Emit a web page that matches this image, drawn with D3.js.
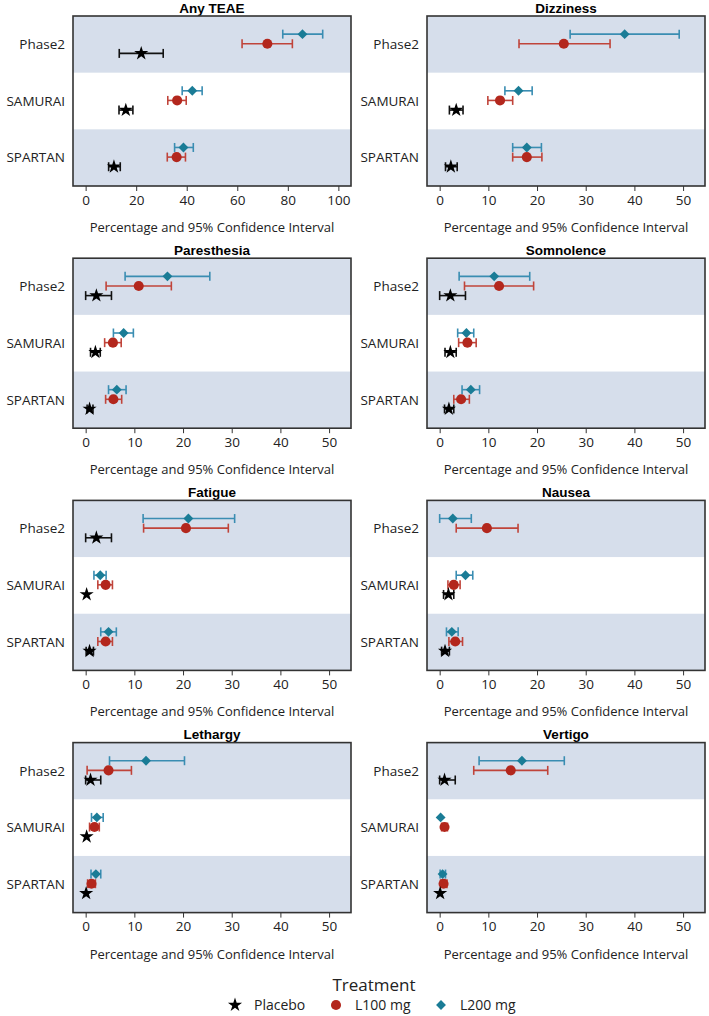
<!DOCTYPE html>
<html>
<head>
<meta charset="utf-8">
<script src="https://cdn.jsdelivr.net/npm/d3@7"></script>
<style>
  html, body { margin: 0; padding: 0; background: #fff; }
  svg { display: block; font-family: "Open Sans", sans-serif; }
</style>
</head>
<body>
<svg id="chart" width="709" height="1016"></svg>
<script>
/* Adverse events by study: percentage and 95% CI, three treatment arms */
var studies = ['Phase2', 'SAMURAI', 'SPARTAN'];
var treatments = ['L200 mg', 'L100 mg', 'Placebo'];   /* top to bottom inside a band */
var legendOrder = ['Placebo', 'L100 mg', 'L200 mg'];
var ticksWide = [0, 20, 40, 60, 80, 100];
var ticksNarrow = [0, 10, 20, 30, 40, 50];

/* rows: [study, treatment, estimate, lower, upper]  (null = not drawn) */
var anyTeae = [
  ['Phase2', 'L200 mg', 85.8, 78.0, 93.8], ['Phase2', 'L100 mg', 71.9, 61.9, 81.8], ['Phase2', 'Placebo', 22.0, 13.3, 30.7],
  ['SAMURAI', 'L200 mg', 42.2, 38.2, 46.1], ['SAMURAI', 'L100 mg', 36.2, 32.5, 39.8], ['SAMURAI', 'Placebo', 15.9, 13.2, 18.7],
  ['SPARTAN', 'L200 mg', 38.7, 35.2, 42.6], ['SPARTAN', 'L100 mg', 36.0, 32.3, 39.5], ['SPARTAN', 'Placebo', 11.2, 9.1, 13.7]
];
var dizziness = [
  ['Phase2', 'L200 mg', 38.0, 26.8, 49.2], ['Phase2', 'L100 mg', 25.5, 16.3, 35.0],
  ['SAMURAI', 'L200 mg', 16.2, 13.4, 19.0], ['SAMURAI', 'L100 mg', 12.4, 9.9, 15.0], ['SAMURAI', 'Placebo', 3.4, 2.0, 4.8],
  ['SPARTAN', 'L200 mg', 17.9, 15.0, 20.9], ['SPARTAN', 'L100 mg', 17.9, 15.0, 21.0], ['SPARTAN', 'Placebo', 2.3, 1.2, 3.6]
];
var paresthesia = [
  ['Phase2', 'L200 mg', 16.8, 8.1, 25.5], ['Phase2', 'L100 mg', 10.9, 4.2, 17.6], ['Phase2', 'Placebo', 2.2, 0, 5.3],
  ['SAMURAI', 'L200 mg', 7.8, 5.7, 9.8], ['SAMURAI', 'L100 mg', 5.6, 3.9, 7.3], ['SAMURAI', 'Placebo', 2.0, 1.0, 3.0],
  ['SPARTAN', 'L200 mg', 6.4, 4.7, 8.3], ['SPARTAN', 'L100 mg', 5.7, 4.1, 7.4], ['SPARTAN', 'Placebo', 0.8, 0.3, 1.5]
];
var somnolence = [
  ['Phase2', 'L200 mg', 11.2, 4.0, 18.5], ['Phase2', 'L100 mg', 12.2, 5.1, 19.3], ['Phase2', 'Placebo', 2.2, 0, 5.3],
  ['SAMURAI', 'L200 mg', 5.5, 3.7, 7.0], ['SAMURAI', 'L100 mg', 5.7, 3.9, 7.5], ['SAMURAI', 'Placebo', 2.2, 1.1, 3.4],
  ['SPARTAN', 'L200 mg', 6.4, 4.6, 8.2], ['SPARTAN', 'L100 mg', 4.4, 2.9, 6.1], ['SPARTAN', 'Placebo', 1.9, 1.0, 2.9]
];
var fatigue = [
  ['Phase2', 'L200 mg', 21.1, 11.8, 30.6], ['Phase2', 'L100 mg', 20.6, 11.9, 29.3], ['Phase2', 'Placebo', 2.2, 0, 5.3],
  ['SAMURAI', 'L200 mg', 3.0, 1.7, 4.2], ['SAMURAI', 'L100 mg', 4.1, 2.5, 5.5], ['SAMURAI', 'Placebo', 0.2, null, null],
  ['SPARTAN', 'L200 mg', 4.7, 3.1, 6.3], ['SPARTAN', 'L100 mg', 4.1, 2.5, 5.5], ['SPARTAN', 'Placebo', 0.8, 0.1, 1.6]
];
var nausea = [
  ['Phase2', 'L200 mg', 2.7, 0, 6.5], ['Phase2', 'L100 mg', 9.7, 3.4, 16.1],
  ['SAMURAI', 'L200 mg', 5.3, 3.4, 6.8], ['SAMURAI', 'L100 mg', 2.9, 1.7, 4.2], ['SAMURAI', 'Placebo', 1.8, 0.8, 2.9],
  ['SPARTAN', 'L200 mg', 2.5, 1.4, 3.8], ['SPARTAN', 'L100 mg', 3.2, 1.9, 4.7], ['SPARTAN', 'Placebo', 1.1, 0.4, 2.0]
];
var lethargy = [
  ['Phase2', 'L200 mg', 12.4, 4.9, 20.3], ['Phase2', 'L100 mg', 4.7, 0.3, 9.4], ['Phase2', 'Placebo', 1.0, 0, 3.1],
  ['SAMURAI', 'L200 mg', 2.3, 1.2, 3.6], ['SAMURAI', 'L100 mg', 1.8, 0.8, 2.8], ['SAMURAI', 'Placebo', 0.2, null, null],
  ['SPARTAN', 'L200 mg', 2.1, 1.1, 3.1], ['SPARTAN', 'L100 mg', 1.2, 0.4, 2.0], ['SPARTAN', 'Placebo', 0.1, null, null]
];
var vertigo = [
  ['Phase2', 'L200 mg', 16.9, 8.1, 25.6], ['Phase2', 'L100 mg', 14.6, 7.0, 22.2], ['Phase2', 'Placebo', 1.0, 0, 3.2],
  ['SAMURAI', 'L200 mg', 0.2, null, null], ['SAMURAI', 'L100 mg', 1.0, 0.4, 1.6],
  ['SPARTAN', 'L200 mg', 0.6, 0.1, 1.2], ['SPARTAN', 'L100 mg', 0.8, 0.2, 1.5], ['SPARTAN', 'Placebo', 0.1, null, null]
];

var panels = [
  { title: 'Any TEAE', rows: anyTeae, ticks: ticksWide, domain: [-5, 105] },
  { title: 'Dizziness', rows: dizziness, ticks: ticksNarrow, domain: [-2.6, 54.5] },
  { title: 'Paresthesia', rows: paresthesia, ticks: ticksNarrow, domain: [-2.6, 54.5] },
  { title: 'Somnolence', rows: somnolence, ticks: ticksNarrow, domain: [-2.6, 54.5] },
  { title: 'Fatigue', rows: fatigue, ticks: ticksNarrow, domain: [-2.6, 54.5] },
  { title: 'Nausea', rows: nausea, ticks: ticksNarrow, domain: [-2.6, 54.5] },
  { title: 'Lethargy', rows: lethargy, ticks: ticksNarrow, domain: [-2.6, 54.5] },
  { title: 'Vertigo', rows: vertigo, ticks: ticksNarrow, domain: [-2.6, 54.5] }
];

var colors = {
  band: '#d6deeb',
  frame: '#333333',
  text: '#222222',
  marker: { 'Placebo': '#000000', 'L100 mg': '#b3271d', 'L200 mg': '#1a7c96' },
  line:   { 'Placebo': '#111111', 'L100 mg': '#c0443a', 'L200 mg': '#3a8db2' }
};
var symbols = {
  'Placebo': d3.symbol().type(d3.symbolStar).size(62),
  'L100 mg': d3.symbol().type(d3.symbolCircle).size(80),
  'L200 mg': d3.symbol().type(d3.symbolDiamond2).size(62)
};

var svg = d3.select('#chart');
var frameW = 278, frameH = 170;
var colX = [73, 427];
var rowY = [16, 258.2, 500.4, 742.6];

panels.forEach(function (p, i) {
  var g = svg.append('g')
    .attr('transform', 'translate(' + colX[i % 2] + ',' + rowY[Math.floor(i / 2)] + ')');

  var x = d3.scaleLinear().domain(p.domain).range([0, frameW]);
  var band = d3.scaleBand().domain(studies).range([0, frameH]);
  var inner = d3.scalePoint().domain(treatments)
    .range([band.bandwidth() * 0.32, band.bandwidth() * 0.66]);

  /* alternating bands */
  g.selectAll('rect.band').data(studies.filter(function (s, k) { return k % 2 === 0; }))
    .enter().append('rect').attr('class', 'band')
    .attr('x', 0).attr('width', frameW)
    .attr('y', function (s) { return band(s); })
    .attr('height', band.bandwidth())
    .attr('fill', colors.band);

  /* x axis */
  var axis = d3.axisBottom(x).tickValues(p.ticks).tickSize(5).tickPadding(4);
  var ax = g.append('g').attr('transform', 'translate(0,' + frameH + ')').call(axis);
  ax.select('.domain').remove();
  ax.selectAll('.tick line').attr('stroke', colors.frame);
  ax.selectAll('.tick text').attr('fill', colors.text)
    .style('font-size', '13.5px').style('font-family', '"Open Sans", sans-serif');

  g.append('text')
    .attr('x', frameW / 2).attr('y', frameH + 46)
    .attr('text-anchor', 'middle').attr('fill', colors.text)
    .style('font-size', '13px')
    .text('Percentage and 95% Confidence Interval');

  /* y category labels */
  g.selectAll('text.study').data(studies).enter().append('text')
    .attr('class', 'study')
    .attr('x', -8).attr('y', function (s) { return band(s) + band.bandwidth() / 2; })
    .attr('dy', '0.35em').attr('text-anchor', 'end')
    .attr('fill', colors.text).style('font-size', '13.5px')
    .text(function (s) { return s; });

  /* title */
  g.append('text')
    .attr('x', frameW / 2).attr('y', -3.5)
    .attr('text-anchor', 'middle').attr('fill', '#000')
    .style('font-family', '"Liberation Sans", Arial, sans-serif')
    .style('font-size', '13.5px').style('font-weight', 'bold')
    .text(p.title);

  function yPos(r) { return band(r[0]) + inner(r[1]); }

  /* confidence intervals */
  var ci = p.rows.filter(function (r) { return r[3] !== null; });
  var eb = g.selectAll('g.ci').data(ci).enter().append('g').attr('class', 'ci')
    .attr('stroke', function (r) { return colors.line[r[1]]; })
    .attr('stroke-width', 1.6).attr('fill', 'none');
  eb.append('line')
    .attr('x1', function (r) { return x(r[3]); }).attr('x2', function (r) { return x(r[4]); })
    .attr('y1', yPos).attr('y2', yPos);
  eb.append('line')
    .attr('x1', function (r) { return x(r[3]); }).attr('x2', function (r) { return x(r[3]); })
    .attr('y1', function (r) { return yPos(r) - 4.5; }).attr('y2', function (r) { return yPos(r) + 4.5; });
  eb.append('line')
    .attr('x1', function (r) { return x(r[4]); }).attr('x2', function (r) { return x(r[4]); })
    .attr('y1', function (r) { return yPos(r) - 4.5; }).attr('y2', function (r) { return yPos(r) + 4.5; });

  /* point estimates */
  g.selectAll('path.pt').data(p.rows).enter().append('path').attr('class', 'pt')
    .attr('transform', function (r) { return 'translate(' + x(r[2]) + ',' + yPos(r) + ')'; })
    .attr('d', function (r) { return symbols[r[1]](); })
    .attr('fill', function (r) { return colors.marker[r[1]]; });

  /* frame */
  g.append('rect')
    .attr('x', 0).attr('y', 0).attr('width', frameW).attr('height', frameH)
    .attr('fill', 'none').attr('stroke', colors.frame).attr('stroke-width', 1.6);
});

/* legend */
var leg = svg.append('g');
leg.append('text')
  .attr('x', 374).attr('y', 991)
  .attr('text-anchor', 'middle').attr('fill', colors.text)
  .style('font-size', '17px')
  .text('Treatment');

var legX = { 'Placebo': 235, 'L100 mg': 336, 'L200 mg': 441 };
legendOrder.forEach(function (t) {
  leg.append('path')
    .attr('transform', 'translate(' + legX[t] + ',1005)')
    .attr('d', symbols[t]())
    .attr('fill', colors.marker[t]);
  leg.append('text')
    .attr('x', legX[t] + 19).attr('y', 1005).attr('dy', '0.35em')
    .attr('fill', colors.text).style('font-size', '14px')
    .text(t);
});
</script>
</body>
</html>
